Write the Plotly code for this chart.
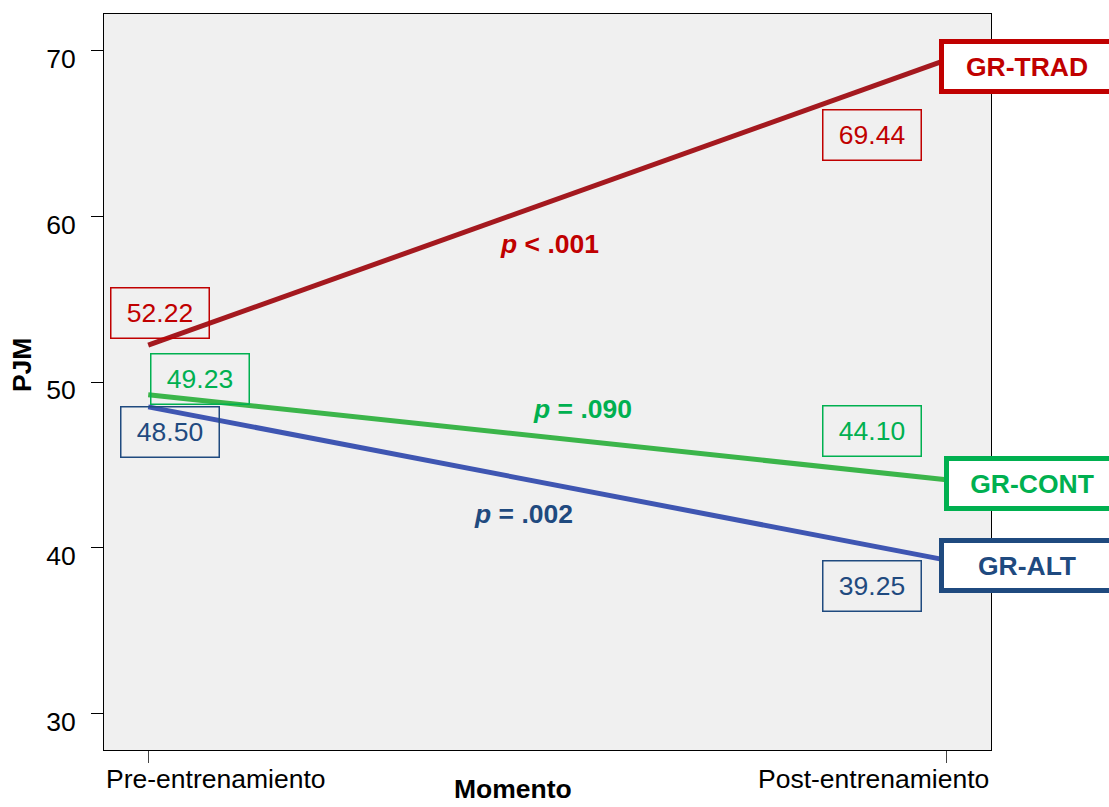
import plotly.graph_objects as go

# ---- data ----
moments = ["Pre-entrenamiento", "Post-entrenamiento"]
groups = ["GR-TRAD", "GR-CONT", "GR-ALT"]
trad = [52.22, 69.44]
cont = [49.23, 44.10]
alt = [48.50, 39.25]
p_labels = ["<i>p</i> &lt; .001", "<i>p</i> = .090", "<i>p</i> = .002"]
y_ticks = [30, 40, 50, 60, 70]

FONT = "Arial, Liberation Sans, sans-serif"
FS = 26.5

series = {"GR-TRAD": trad, "GR-CONT": cont, "GR-ALT": alt}
line_col = {"GR-TRAD": "#a4191f", "GR-CONT": "#3bb54a", "GR-ALT": "#3f56b2"}
text_col = {"GR-TRAD": "#c00000", "GR-CONT": "#00b050", "GR-ALT": "#1f4a7f"}

xpos = list(range(len(moments)))

fig = go.Figure()
for g in ["GR-ALT", "GR-CONT", "GR-TRAD"]:
    fig.add_trace(go.Scatter(x=xpos, y=series[g], mode="lines",
                             line=dict(color=line_col[g], width=5),
                             showlegend=False, hoverinfo="skip"))

ann = []
# value label boxes: (pre shift), (post shift)
val_shift = {
    "GR-TRAD": [(11.5, 32.5), (-74.5, -75.5)],
    "GR-CONT": [(51.5, 15.5), (-74.5, 48.5)],
    "GR-ALT": [(21.5, -25.5), (-74.5, -26)],
}
for g in groups:
    for i, v in enumerate(series[g]):
        dx, dy = val_shift[g][i]
        ann.append(dict(x=xpos[i], y=v, xref="x", yref="y", text=f"{v:.2f}",
                        showarrow=False, xshift=dx, yshift=dy,
                        font=dict(family=FONT, size=FS, color=text_col[g]),
                        bordercolor=text_col[g], borderwidth=1.5, borderpad=0,
                        width=97, height=49, xanchor="center", yanchor="middle"))

# group name boxes at line ends
grp_shift = {"GR-TRAD": (80.5, -7), "GR-CONT": (85.5, -3.5), "GR-ALT": (81, -5)}
for g in groups:
    dx, dy = grp_shift[g]
    ann.append(dict(x=xpos[1], y=series[g][1], xref="x", yref="y", text=f"<b>{g}</b>",
                    showarrow=False, xshift=dx, yshift=dy,
                    font=dict(family=FONT, size=FS, color=text_col[g]),
                    bordercolor=text_col[g], borderwidth=5, borderpad=0,
                    bgcolor="white", width=166, height=45,
                    xanchor="center", yanchor="middle"))

# p-values near line midpoints
p_shift = {"GR-TRAD": (2.5, -41), "GR-CONT": (35.5, 28), "GR-ALT": (-24, -31)}
for g, pl in zip(groups, p_labels):
    dx, dy = p_shift[g]
    vals = series[g]
    ann.append(dict(x=sum(xpos) / 2, y=sum(vals) / 2, xref="x", yref="y",
                    text=f"<b>{pl}</b>", showarrow=False, xshift=dx, yshift=dy,
                    font=dict(family=FONT, size=FS, color=text_col[g]),
                    xanchor="center", yanchor="middle"))

XR = [-0.0554, 1.0558]
# x tick labels (clamped to plot edges as in reference)
ann.append(dict(x=XR[0], y=0, xref="x", yref="paper", text=moments[0],
                showarrow=False, xanchor="left", yanchor="middle", yshift=-29,
                font=dict(family=FONT, size=FS, color="black")))
ann.append(dict(x=XR[1], y=0, xref="x", yref="paper", text=moments[1],
                showarrow=False, xanchor="right", yanchor="middle", yshift=-29,
                font=dict(family=FONT, size=FS, color="black")))
# axis titles
ann.append(dict(x=0.461, y=0, xref="paper", yref="paper", text="<b>Momento</b>",
                showarrow=False, xanchor="center", yanchor="bottom", yshift=-56,
                font=dict(family=FONT, size=FS, color="black")))
ann.append(dict(x=0, y=0.523, xref="paper", yref="paper", text="<b>PJM</b>",
                showarrow=False, xanchor="center", yanchor="middle", xshift=-82,
                textangle=-90, font=dict(family=FONT, size=FS, color="black")))

fig.update_layout(
    width=1109, height=807,
    margin=dict(l=104, r=118, t=14, b=57),
    paper_bgcolor="white", plot_bgcolor="#f0f0f0",
    font=dict(family=FONT, size=FS, color="black"),
    annotations=ann, showlegend=False,
)
fig.update_xaxes(range=XR, tickvals=xpos, showticklabels=False, ticks="outside",
                 ticklen=12, tickcolor="#444", showgrid=False, zeroline=False,
                 showline=True, linecolor="black", linewidth=1, mirror=True)
fig.update_yaxes(range=[27.79, 72.21], tickvals=y_ticks, ticks="outside",
                 ticklen=12, tickcolor="black", showgrid=False, zeroline=False,
                 showline=True, linecolor="black", linewidth=1, mirror=True,
                 tickfont=dict(family=FONT, size=FS, color="black"),
                 ticklabelshift=8, ticklabelstandoff=10)

fig.write_html("out.html", config={"displayModeBar": False},
               post_script="document.body.style.margin='0';document.body.style.overflow='hidden';")
